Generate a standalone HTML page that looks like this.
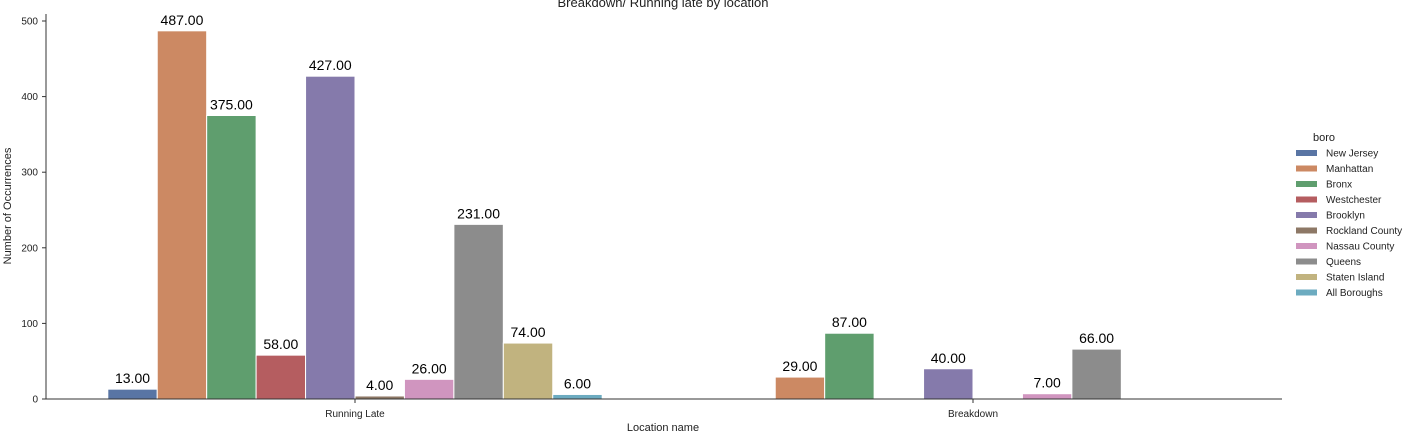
<!DOCTYPE html>
<html><head><meta charset="utf-8"><style>
body{margin:0;background:#fff;font-family:"Liberation Sans",sans-serif}
svg text{font-family:"Liberation Sans",sans-serif}
</style></head><body>
<svg id="chart" width="1419" height="432"></svg>
<script>
const categories=["Running Late","Breakdown"];
const boros=["New Jersey","Manhattan","Bronx","Westchester","Brooklyn","Rockland County","Nassau County","Queens","Staten Island","All Boroughs"];
const colors=["#5975a4","#cc8963","#5f9e6e","#b55d60","#857aab","#8d7866","#d095bf","#8c8c8c","#c1b37f","#6cabc0"];
const runningLate=[13,487,375,58,427,4,26,231,74,6];
const breakdown=[null,29,87,null,40,null,7,66,null,null];
const yTicks=[0,100,200,300,400,500];
const series=[runningLate,breakdown];
const NS="http://www.w3.org/2000/svg";
const svg=document.getElementById('chart');
const x0=46,x1=1282,y0=399,yTop=21;
const y=v=>y0-(v/500)*(y0-yTop);
const catW=(x1-x0)/2;
const catX=i=>x0+catW*(i+0.5);
const barW=catW*0.8/boros.length;
function el(t,a,txt){const e=document.createElementNS(NS,t);for(const k in a)e.setAttribute(k,a[k]);if(txt!=null)e.textContent=txt;svg.appendChild(e);return e;}
let t=el('text',{x:663,y:7,'text-anchor':'middle','font-size':13,fill:'#222'},'Breakdown/ Running late by location');


categories.forEach((c,ci)=>{
  series[ci].forEach((v,bi)=>{
    if(v==null)return;
    const cx=catX(ci)-catW*0.4+barW*(bi+0.5);
    const r=el('rect',{x:cx-barW/2,y:y(v),width:barW,height:y0-y(v),fill:colors[bi],stroke:'#fff','stroke-width':1});
    
    
    const l=el('text',{x:cx,y:y(v)-6,'text-anchor':'middle','font-size':14,fill:'#000'},v.toFixed(2));
    
    
  });
  el('line',{x1:catX(ci),x2:catX(ci),y1:y0,y2:y0+4,stroke:'#333'});
  const tl=el('text',{x:catX(ci),y:y0+18,'text-anchor':'middle','font-size':10,fill:'#222'},c);
  
  
});
yTicks.forEach(v=>{
  el('line',{x1:x0-4,x2:x0,y1:y(v),y2:y(v),stroke:'#333'});
  const tl=el('text',{x:x0-8,y:y(v)+3.5,'text-anchor':'end','font-size':10,fill:'#222'},v);
  
  
});
el('line',{x1:x0,x2:x0,y1:14,y2:y0,stroke:'#333'});
el('line',{x1:x0,x2:x1,y1:y0,y2:y0,stroke:'#333'});
const xt=el('text',{x:663,y:431,'text-anchor':'middle','font-size':11,fill:'#222'},'Location name');


const yt=el('text',{x:0,y:0,'text-anchor':'middle','font-size':11,fill:'#222',transform:'translate(11,206) rotate(-90)'},'Number of Occurrences');


const lt=el('text',{x:1324,y:141,'text-anchor':'middle','font-size':11,fill:'#222'},'boro');


boros.forEach((b,i)=>{
  const yy=153+i*15.5;
  const p=el('rect',{x:1296,y:yy-3,width:21,height:6,fill:colors[i]});
  
  
  const lx=el('text',{x:1326,y:yy+3.5,'font-size':10,fill:'#222'},b);
  
  
});
</script>
</body></html>
